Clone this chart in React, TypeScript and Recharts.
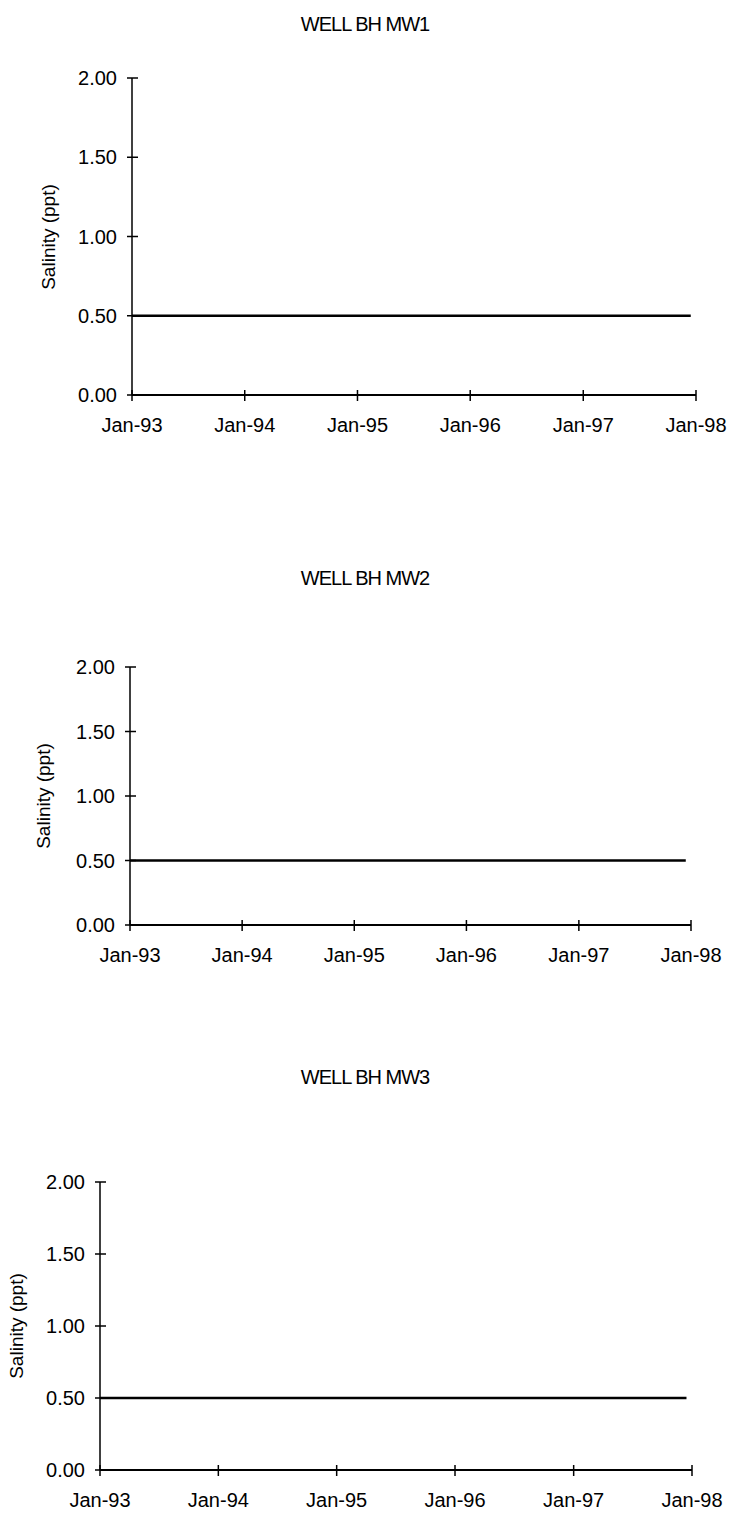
import React from "react";
import { Line, LineChart, XAxis, YAxis } from "recharts";

const SAMPLE_DATES = ["1993-01-01", "1997-12-15"];
const MW1_SALINITY = [0.5, 0.5];
const MW2_SALINITY = [0.5, 0.5];
const MW3_SALINITY = [0.5, 0.5];

const YEAR_TICK_DATES = ["1993-01-01", "1994-01-01", "1995-01-01", "1996-01-01", "1997-01-01", "1998-01-01"];
const YEAR_TICK_LABELS = ["Jan-93", "Jan-94", "Jan-95", "Jan-96", "Jan-97", "Jan-98"];
const SALINITY_TICKS = [0, 0.5, 1, 1.5, 2];
const WELL_TITLES = ["WELL BH MW1", "WELL BH MW2", "WELL BH MW3"];
const Y_LABEL = "Salinity (ppt)";

const FONT = '"Liberation Sans", Arial, sans-serif';
const PAGE_WIDTH = 730;
const X_AXIS_HEIGHT = 50;
const TOP_PAD = 12;

type Panel = {
  title: string;
  values: number[];
  axisX: number;
  endX: number;
  plotTop: number;
  plotBottom: number;
  titleY: number;
  labelX: number;
};

const PANELS: Panel[] = [
  { title: WELL_TITLES[0], values: MW1_SALINITY, axisX: 132, endX: 696, plotTop: 78, plotBottom: 395, titleY: 24, labelX: 49 },
  { title: WELL_TITLES[1], values: MW2_SALINITY, axisX: 130, endX: 691, plotTop: 667, plotBottom: 925, titleY: 578, labelX: 44 },
  { title: WELL_TITLES[2], values: MW3_SALINITY, axisX: 100, endX: 692, plotTop: 1182, plotBottom: 1470, titleY: 1077, labelX: 17 },
];

const toTime = (iso: string) => Date.parse(iso + "T00:00:00Z");
const tickTimes = YEAR_TICK_DATES.map(toTime);

function formatYear(value: number): string {
  const index = tickTimes.indexOf(value);
  return index >= 0 ? YEAR_TICK_LABELS[index] : "";
}

function SalinityTick(props: any) {
  const { x, y, payload } = props;
  return (
    <g>
      <line x1={x - 5} x2={x + 6} y1={y} y2={y} stroke="#000" strokeWidth={1.5} />
      <text x={x - 15} y={y} dy="0.36em" textAnchor="end" fontSize={20} fontFamily={FONT} fill="#000">
        {Number(payload.value).toFixed(2)}
      </text>
    </g>
  );
}

function YearTick(props: any) {
  const { x, y, payload } = props;
  return (
    <g>
      <line x1={x} x2={x} y1={y - 5} y2={y + 6} stroke="#000" strokeWidth={1.5} />
      <text x={x} y={y + 37} textAnchor="middle" fontSize={20} fontFamily={FONT} fill="#000">
        {formatYear(payload.value)}
      </text>
    </g>
  );
}

function WellChart({ panel }: { panel: Panel }) {
  const chartData = SAMPLE_DATES.map((date, i) => ({ t: toTime(date), salinity: panel.values[i] }));
  const svgTop = panel.plotTop - TOP_PAD;
  const svgHeight = panel.plotBottom - panel.plotTop + TOP_PAD + X_AXIS_HEIGHT;
  const midY = (panel.plotTop + panel.plotBottom) / 2;

  return (
    <>
      <div
        style={{
          position: "absolute",
          left: 0,
          top: panel.titleY - 12,
          width: PAGE_WIDTH,
          textAlign: "center",
          fontFamily: FONT,
          fontSize: 20,
          lineHeight: "24px",
          letterSpacing: -1,
        }}
      >
        {panel.title}
      </div>
      <div
        style={{
          position: "absolute",
          left: panel.labelX,
          top: midY,
          transform: "translate(-50%, -50%) rotate(-90deg)",
          whiteSpace: "nowrap",
          fontFamily: FONT,
          fontSize: 19,
          lineHeight: "20px",
        }}
      >
        {Y_LABEL}
      </div>
      <div style={{ position: "absolute", left: 0, top: svgTop }}>
        <LineChart
          width={PAGE_WIDTH}
          height={svgHeight}
          data={chartData}
          margin={{ top: TOP_PAD, right: PAGE_WIDTH - panel.endX, bottom: 0, left: 0 }}
        >
          <XAxis
            type="number"
            dataKey="t"
            domain={[tickTimes[0], tickTimes[tickTimes.length - 1]]}
            ticks={tickTimes}
            interval={0}
            height={X_AXIS_HEIGHT}
            tickSize={0}
            tickMargin={0}
            tickLine={false}
            axisLine={{ stroke: "#000", strokeWidth: 1.8 }}
            tick={<YearTick />}
          />
          <YAxis
            type="number"
            domain={[0, 2]}
            ticks={SALINITY_TICKS}
            interval={0}
            width={panel.axisX}
            tickSize={0}
            tickMargin={0}
            tickLine={false}
            axisLine={{ stroke: "#000", strokeWidth: 1.5 }}
            tick={<SalinityTick />}
          />
          <Line
            type="linear"
            dataKey="salinity"
            stroke="#000"
            strokeWidth={2.5}
            dot={false}
            isAnimationActive={false}
          />
        </LineChart>
      </div>
    </>
  );
}

export default function App() {
  return (
    <div style={{ position: "absolute", left: 0, top: 0, width: PAGE_WIDTH, height: 1518, background: "#fff" }}>
      {PANELS.map((panel) => (
        <WellChart key={panel.title} panel={panel} />
      ))}
    </div>
  );
}
